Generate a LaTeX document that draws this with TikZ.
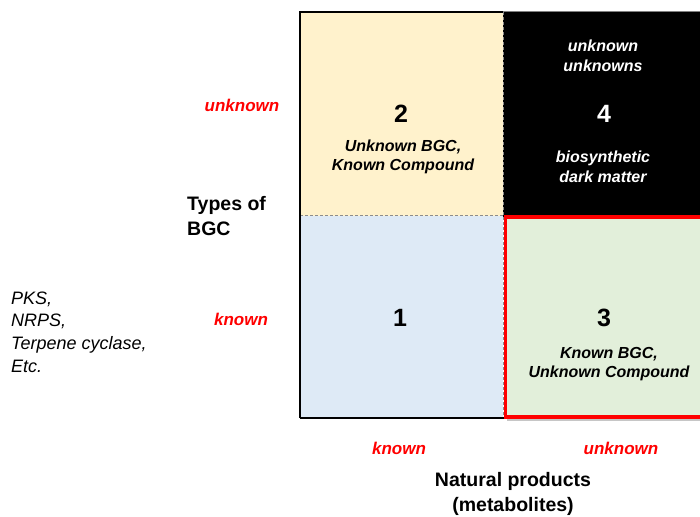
\documentclass[tikz,border=0pt]{standalone}
\usepackage{fontspec}
\setmainfont{Liberation Sans}
\definecolor{cream}{HTML}{FFF2CC}
\definecolor{lblue}{HTML}{DEEAF6}
\definecolor{lgreen}{HTML}{E2EFDA}
\definecolor{redline}{HTML}{FF0000}
\definecolor{dashgray}{HTML}{8C8C8C}
\tikzset{
  numtxt/.style={inner sep=0pt, font=\fontsize{25}{28}\selectfont\bfseries},
  celltxt/.style={inner sep=0pt, align=center, font=\fontsize{16}{19.5}\selectfont\bfseries\itshape},
  redlab/.style={inner sep=0pt, text=redline, font=\fontsize{17}{20}\selectfont\bfseries\itshape},
  axistxt/.style={inner sep=0pt, font=\fontsize{19.5}{24.5}\selectfont\bfseries},
  quadsep/.style={dashgray, dashed, line width=0.9pt, dash pattern=on 3pt off 2pt},
}
\begin{document}
\begin{tikzpicture}[x=1pt,y=-1pt]
\useasboundingbox (0,0) rectangle (700,516);
\begin{scope}
\clip (0,0) rectangle (700,516);
% quadrant fills
\fill[cream] (300,12) rectangle (503,215.5);
\fill[lblue] (300,215.5) rectangle (503,418);
\fill[black] (503,11) rectangle (712,217);
\fill[lgreen] (505.5,217) rectangle (712,417);
% shadow under quadrant 3
\fill[gray!45] (507,419) rectangle (712,421);
% dashed separators
\draw[quadsep] (503,12) -- (503,418);
\draw[quadsep] (300,215.5) -- (503,215.5);
% black outer lines
\draw[black, line width=2pt] (300,418) -- (300,12) -- (503,12);
\draw[black, line width=1.6pt] (300,418) -- (505,418);
\draw[gray, line width=0.6pt] (503,11) -- (712,11);
% red frame of quadrant 3
\draw[redline, line width=3.8pt] (712,217) -- (505.5,217) -- (505.5,417) -- (712,417);
\end{scope}

% quadrant contents
\node[numtxt] (n2) at (401,114) {2};
\node[celltxt] (t2) at (403,157) {Unknown BGC,\\Known Compound};
\node[celltxt, text=white] (t4a) at (603,56) {unknown\\unknowns};
\node[numtxt, text=white] (n4) at (604,114) {4};
\node[celltxt, text=white] (t4b) at (603,167) {biosynthetic\\dark matter};
\node[numtxt] (n1) at (400,318) {1};
\node[numtxt] (n3) at (604,318) {3};
\node[celltxt] (t3) at (609,364) {Known BGC,\\Unknown Compound};

% axis labels
\node[redlab] (yunk) at (242,105) {unknown};
\node[redlab] (ykn) at (241,319) {known};
\node[redlab] (xkn) at (399,448) {known};
\node[redlab] (xunk) at (621,448) {unknown};
\node[axistxt, anchor=west, align=left] (ytitle) at (187,216) {Types of\\BGC};
\node[axistxt, align=center] (xtitle) at (513,494) {Natural products\\(metabolites)};
\node[inner sep=0pt, anchor=west, align=left, font=\fontsize{18}{22.7}\selectfont\itshape] (types) at (11,332) {PKS,\\NRPS,\\Terpene cyclase,\\Etc.};
\end{tikzpicture}
\end{document}
